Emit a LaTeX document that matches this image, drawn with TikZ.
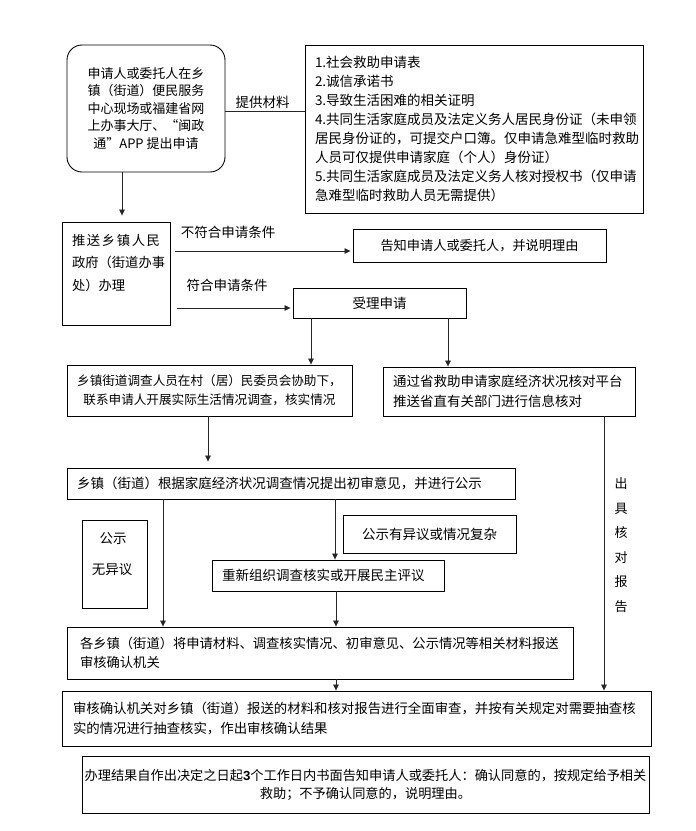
\documentclass[tikz,border=0pt]{standalone}
\usepackage{fontspec}
\setmainfont{Noto Sans CJK SC}
\newfontfamily\latinb{Liberation Sans}
\usetikzlibrary{arrows.meta}
\begin{document}
\begin{tikzpicture}[x=1pt,y=-1pt,
  every node/.style={font=\fontsize{13.5}{19}\selectfont},
  box/.style={draw, line width=0.9pt, inner sep=0pt},
  con/.style={line width=0.7pt, draw=black!85},
  arr/.style={con, -{Triangle[length=6pt,width=5.5pt]}}]
\useasboundingbox (0,0) rectangle (696,831);

% apply
\node[box, rounded corners=15pt, minimum width=158pt, minimum height=127pt, align=center,
  font=\fontsize{13}{17.5}\selectfont] (apply) at (146,108.5)
  {申请人或委托人在乡\\镇（街道）便民服务\\中心现场或福建省网\\上办事大厅、“闽政\\通”APP 提出申请};

% materials
\node[box, minimum width=338pt, minimum height=168pt, text width=318pt, align=left] (mat) at (474,129)
  {1.社会救助申请表\\2.诚信承诺书\\3.导致生活困难的相关证明\\4.共同生活家庭成员及法定义务人居民身份证（未申领\\居民身份证的，可提交户口簿。仅申请急难型临时救助\\人员可仅提供申请家庭（个人）身份证）\\5.共同生活家庭成员及法定义务人核对授权书（仅申请\\急难型临时救助人员无需提供）};
\node (lab1) at (262.5,102) {提供材料};
\draw[con] (apply.east |- 0,111) -- (mat.west |- 0,111);

% push
\node[box, minimum width=108pt, minimum height=103pt, text width=88pt, align=left,
  font=\fontsize{13.3}{22.5}\selectfont] (push) at (116,273.5)
  {\makebox[88pt][s]{推\hfil 送\hfil 乡\hfil 镇\hfil 人\hfil 民}\\政府（街道办事\\处）办理\\~};
\draw[arr, shorten >=6pt] (apply.south -| 122,0) -- (push.north -| 122,0);

% not eligible
\node[box, minimum width=253pt, minimum height=33pt, font=\fontsize{13.2}{19}\selectfont] (tell) at (479.5,245.5) {告知申请人或委托人，并说明理由};
\node (lab2) at (228,232) {不符合申请条件};
\draw[arr, shorten <=5pt, shorten >=2pt] (push.east |- 0,251) -- (tell.west |- 0,251);

% eligible
\node[box, minimum width=173pt, minimum height=30pt] (accept) at (379.5,303) {受理申请};
\node (lab3) at (227,285) {符合申请条件};
\draw[arr, shorten <=7pt, shorten >=2pt] (push.east |- 0,308) -- (accept.west |- 0,308);

% survey
\node[box, minimum width=285pt, minimum height=51pt, align=center,
  font=\fontsize{12.6}{19}\selectfont] (survey) at (209.5,390.5)
  {乡镇街道调查人员在村（居）民委员会协助下，\\联系申请人开展实际生活情况调查，核实情况};
\draw[arr] (accept.south -| 311,0) -- (survey.north -| 311,0);

% verify
\node[box, minimum width=252pt, minimum height=49pt, text width=232pt, align=left,
  font=\fontsize{13.5}{20}\selectfont] (verify) at (509,391.5)
  {通过省救助申请家庭经济状况核对平台\\推送省直有关部门进行信息核对};
\draw[arr] (accept.south -| 448,0) -- (verify.north -| 448,0);

% preliminary
\node[box, minimum width=448pt, minimum height=31pt, text width=428pt, align=left] (prelim) at (291,483.5)
  {乡镇（街道）根据家庭经济状况调查情况提出初审意见，并进行公示};
\draw[arr, shorten >=6pt] (survey.south -| 208,0) -- (prelim.north -| 208,0);

% objection
\node[box, minimum width=173pt, minimum height=38pt] (objection) at (429.5,534) {公示有异议或情况复杂};
\node[box, minimum width=65pt, minimum height=88pt] (noobj) at (114.5,564) {};
\node (noobj1) at (113,538) {公示};
\node (noobj2) at (112,570) {无异议};

% redo
\node[box, minimum width=232pt, minimum height=31pt, text width=212pt, align=left] (redo) at (328,575.5)
  {重新组织调查核实或开展民主评议};
\draw[arr] (prelim.south -| 335,0) -- (redo.north -| 335,0);

% summary
\node[box, minimum width=506pt, minimum height=52pt, text width=480pt, align=left,
  font=\fontsize{13.3}{19}\selectfont] (summary) at (320,653)
  {各乡镇（街道）将申请材料、调查核实情况、初审意见、公示情况等相关材料报送\\审核确认机关};
\draw[arr] (prelim.south -| 163,0) -- (summary.north -| 163,0);
\draw[arr] (redo.south -| 336,0) -- (summary.north -| 336,0);

% review
\node[box, minimum width=589pt, minimum height=55pt, text width=567pt, align=left,
  font=\fontsize{13.4}{20}\selectfont] (review) at (356.5,718.5)
  {审核确认机关对乡镇（街道）报送的材料和核对报告进行全面审查，并按有关规定对需要抽查核\\实的情况进行抽查核实，作出审核确认结果};
\draw[arr] (summary.south -| 336,0) -- (review.north -| 336,0);
\draw[arr] (verify.south -| 604,0) -- (review.north -| 604,0);
\node[align=center, font=\fontsize{13}{24.5}\selectfont] (report) at (621,545) {出\\具\\核\\对\\报\\告};

% result
\node[box, minimum width=567pt, minimum height=57pt, align=center,
  font=\fontsize{13.2}{18}\selectfont] (result) at (365.5,784.5)
  {办理结果自作出决定之日起{\latinb\bfseries 3}个工作日内书面告知申请人或委托人：确认同意的，按规定给予相关\\救助；不予确认同意的，说明理由。};
\end{tikzpicture}
\end{document}
